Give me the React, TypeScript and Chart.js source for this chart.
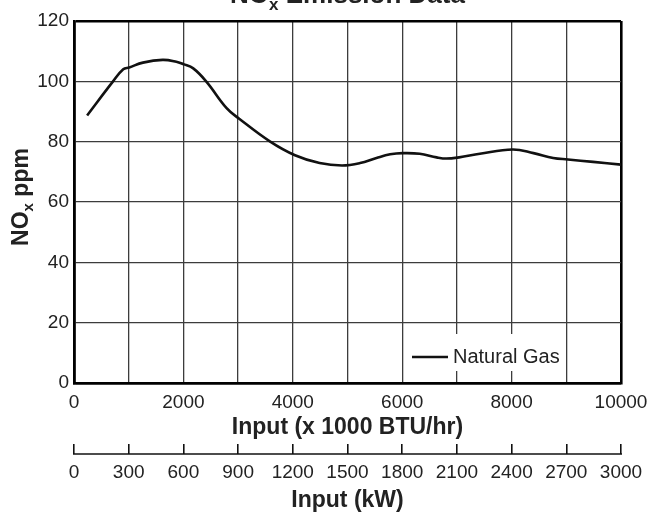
import { useEffect, useRef } from 'react';
import { Chart, registerables } from 'chart.js';

Chart.register(...registerables);

// ---- Data ----
const inputBtu = [240, 710, 900, 1010, 1260, 1620, 1870, 2000, 2180, 2420, 2790, 3020, 3580, 4040, 4490, 4900, 5230, 5530, 5780, 6010, 6320, 6630, 6810, 7040, 7420, 8020, 8400, 8760, 9030, 9490, 10000];
const noxPpm = [88.7, 99.9, 104, 104.6, 106.2, 107.1, 106.5, 105.7, 104.3, 99.9, 91.1, 87.6, 80.1, 75.5, 72.9, 72.1, 72.9, 74.6, 75.8, 76.2, 76.0, 74.8, 74.4, 74.8, 76.0, 77.4, 76.2, 74.6, 74.1, 73.3, 72.4];
const seriesLabel = 'Natural Gas';

const btuLabelTicks = [0, 2000, 4000, 6000, 8000, 10000];
const kwTicks = [0, 300, 600, 900, 1200, 1500, 1800, 2100, 2400, 2700, 3000];
const ppmTicks = [0, 20, 40, 60, 80, 100, 120];

const chartTitle = { main: 'NO', sub: 'x', rest: ' Emission Data' };
const yTitle = { main: 'NO', sub: 'x', rest: ' ppm' };
const xTitle = 'Input (x 1000 BTU/hr)';
const x2Title = 'Input (kW)';

const FAMILY = '"Liberation Sans", Arial, Helvetica, sans-serif';
const TEXT = '#222';
const GRID = '#3c3c3c';

const overlayPlugin = {
  id: 'overlay',
  afterDraw(chart: any) {
    const ctx = chart.ctx as CanvasRenderingContext2D;
    const ca = chart.chartArea;

    // Chart title (partly above the canvas)
    ctx.save();
    ctx.fillStyle = TEXT;
    ctx.textAlign = 'left';
    ctx.textBaseline = 'alphabetic';
    const tMain = `bold 26px ${FAMILY}`;
    const tSub = `bold 17px ${FAMILY}`;
    ctx.font = tMain;
    const w1 = ctx.measureText(chartTitle.main).width;
    const w3 = ctx.measureText(chartTitle.rest).width;
    ctx.font = tSub;
    const w2 = ctx.measureText(chartTitle.sub).width;
    const tx0 = (ca.left + ca.right) / 2 - (w1 + w2 + w3) / 2;
    ctx.font = tMain;
    ctx.fillText(chartTitle.main, tx0, 3.3);
    ctx.font = tSub;
    ctx.fillText(chartTitle.sub, tx0 + w1, 10);
    ctx.font = tMain;
    ctx.fillText(chartTitle.rest, tx0 + w1 + w2, 3.3);
    ctx.restore();

    // Y axis title (rotated, with subscript)
    ctx.save();
    ctx.fillStyle = TEXT;
    ctx.textAlign = 'left';
    ctx.textBaseline = 'alphabetic';
    const yMain = `bold 23px ${FAMILY}`;
    const ySub = `bold 15px ${FAMILY}`;
    ctx.font = yMain;
    const a1 = ctx.measureText(yTitle.main).width;
    const a3 = ctx.measureText(yTitle.rest).width;
    ctx.font = ySub;
    const a2 = ctx.measureText(yTitle.sub).width;
    const total = a1 + a2 + a3;
    const cy = (ca.top + ca.bottom) / 2 - 5;
    ctx.translate(28.3, cy + total / 2);
    ctx.rotate(-Math.PI / 2);
    ctx.font = yMain;
    ctx.fillText(yTitle.main, 0, 0);
    ctx.font = ySub;
    ctx.fillText(yTitle.sub, a1, 5);
    ctx.font = yMain;
    ctx.fillText(yTitle.rest, a1 + a2, 0);
    ctx.restore();

    // Legend box inside plot (bottom right)
    const ds = chart.data.datasets[0];
    ctx.save();
    ctx.fillStyle = '#ffffff';
    ctx.fillRect(ca.right - 213, ca.bottom - 49, 158, 37);
    ctx.strokeStyle = ds.borderColor;
    ctx.lineWidth = ds.borderWidth;
    ctx.beginPath();
    ctx.moveTo(ca.right - 209, ca.bottom - 26);
    ctx.lineTo(ca.right - 173, ca.bottom - 26);
    ctx.stroke();
    ctx.fillStyle = TEXT;
    ctx.font = `20px ${FAMILY}`;
    ctx.textAlign = 'left';
    ctx.textBaseline = 'middle';
    ctx.fillText(ds.label, ca.right - 168, ca.bottom - 26);
    ctx.restore();

    // Baseline of the kW axis (below its tick marks)
    const s = chart.scales.x2;
    if (s) {
      const y = s.top + 10;
      ctx.save();
      ctx.strokeStyle = '#111';
      ctx.lineWidth = 1.6;
      ctx.beginPath();
      ctx.moveTo(s.left - 1, y);
      ctx.lineTo(s.right + 1, y);
      ctx.stroke();
      ctx.restore();
    }
  },
};

export default function App() {
  const canvasRef = useRef<HTMLCanvasElement | null>(null);

  useEffect(() => {
    const canvas = canvasRef.current;
    if (!canvas) return;

    const edgeWidth = (min: number, max: number) => (c: any) =>
      c.tick && (c.tick.value === min || c.tick.value === max) ? 2.6 : 1.3;
    const edgeColor = (min: number, max: number) => (c: any) =>
      c.tick && (c.tick.value === min || c.tick.value === max) ? '#000' : GRID;

    const chart = new Chart(canvas, {
      type: 'line',
      data: {
        datasets: [
          {
            label: seriesLabel,
            data: inputBtu.map((x, i) => ({ x, y: noxPpm[i] })),
            borderColor: '#111',
            borderWidth: 2.6,
            pointRadius: 0,
            fill: false,
            tension: 0.4,
            xAxisID: 'x',
            yAxisID: 'y',
          },
        ],
      },
      options: {
        animation: false,
        responsive: true,
        maintainAspectRatio: false,
        layout: { padding: { left: 0, top: 21, right: 31, bottom: 0 } },
        plugins: {
          legend: { display: false },
          tooltip: { enabled: false },
          title: { display: false },
        },
        scales: {
          x: {
            type: 'linear',
            position: 'bottom',
            weight: 0,
            min: 0,
            max: 10000,
            ticks: {
              stepSize: 1000,
              autoSkip: false,
              maxRotation: 0,
              padding: 8.6,
              color: TEXT,
              font: { family: FAMILY, size: 19 },
              callback: (v: any) => (btuLabelTicks.includes(Number(v)) ? String(v) : ''),
            },
            grid: {
              drawTicks: false,
              lineWidth: edgeWidth(0, 10000),
              color: edgeColor(0, 10000),
            },
            border: { display: true, color: '#000', width: 2.6 },
            title: {
              display: true,
              text: xTitle,
              color: TEXT,
              font: { family: FAMILY, size: 23, weight: 'bold' },
              padding: { top: 0, bottom: 2.7 },
            },
            afterFit: (s: any) => {
              s.height = 61;
              s.paddingLeft = 0;
              s.paddingRight = 0;
            },
          },
          x2: {
            type: 'linear',
            axis: 'x',
            position: 'bottom',
            weight: 1,
            min: 0,
            max: 3000,
            ticks: {
              stepSize: 300,
              autoSkip: false,
              maxRotation: 0,
              padding: 7.3,
              color: TEXT,
              font: { family: FAMILY, size: 19 },
              callback: (v: any) => (kwTicks.includes(Number(v)) ? String(v) : ''),
            },
            grid: {
              drawOnChartArea: false,
              drawTicks: true,
              tickLength: 10,
              color: '#111',
              lineWidth: 1.6,
            },
            border: { display: false },
            title: {
              display: true,
              text: x2Title,
              color: TEXT,
              font: { family: FAMILY, size: 23, weight: 'bold' },
              padding: { top: 0, bottom: 0 },
            },
            afterFit: (s: any) => {
              s.height = 70;
              s.paddingLeft = 0;
              s.paddingRight = 0;
            },
          },
          y: {
            type: 'linear',
            position: 'left',
            min: 0,
            max: 120,
            afterBuildTicks: (s: any) => {
              s.ticks = ppmTicks.map((v) => ({ value: v }));
            },
            ticks: {
              padding: 5,
              color: TEXT,
              font: { family: FAMILY, size: 19 },
              callback: (v: any) => String(v),
            },
            grid: {
              drawTicks: false,
              lineWidth: edgeWidth(0, 120),
              color: edgeColor(0, 120),
            },
            border: { display: true, color: '#000', width: 2.6 },
            title: { display: false },
            afterFit: (s: any) => {
              s.width = 74;
              s.paddingTop = 0;
              s.paddingBottom = 0;
            },
          },
        },
      } as any,
      plugins: [overlayPlugin],
    });

    return () => {
      chart.destroy();
    };
  }, []);

  return (
    <div
      style={{
        position: 'fixed',
        left: 0,
        top: 0,
        width: '652px',
        height: '514px',
        background: '#fff',
      }}
    >
      <canvas ref={canvasRef} />
    </div>
  );
}
